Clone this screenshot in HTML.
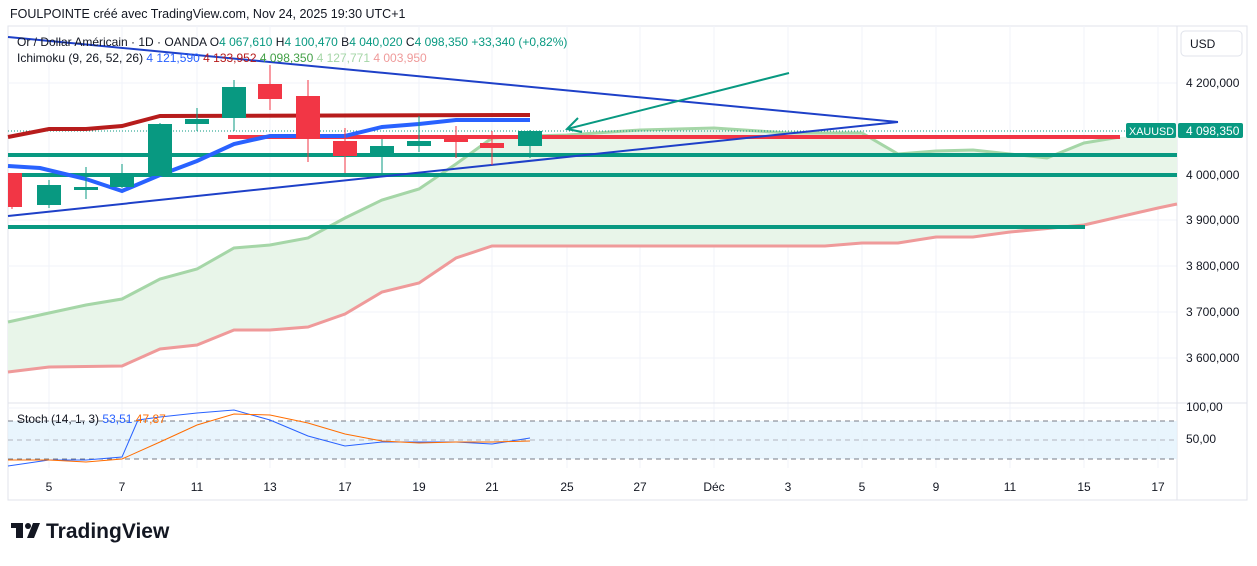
<!DOCTYPE html>
<html><head><meta charset="utf-8"><style>
body{margin:0;background:#fff;width:1257px;height:561px;overflow:hidden;font-family:"Liberation Sans",sans-serif}
svg text{font-family:"Liberation Sans",sans-serif}
</style></head><body>
<svg width="1257" height="561" xmlns="http://www.w3.org/2000/svg">
<text x="10" y="18" font-size="12.5" fill="#131722">FOULPOINTE créé avec TradingView.com, Nov 24, 2025 19:30 UTC+1</text>
<rect x="8" y="26" width="1239" height="474" fill="none" stroke="#e0e3eb"/>
<g stroke="#f0f3fa" stroke-width="1">
<line x1="49" y1="26" x2="49" y2="468"/><line x1="122" y1="26" x2="122" y2="468"/><line x1="197" y1="26" x2="197" y2="468"/><line x1="270" y1="26" x2="270" y2="468"/><line x1="345" y1="26" x2="345" y2="468"/><line x1="419" y1="26" x2="419" y2="468"/><line x1="492" y1="26" x2="492" y2="468"/><line x1="567" y1="26" x2="567" y2="468"/><line x1="640" y1="26" x2="640" y2="468"/><line x1="714" y1="26" x2="714" y2="468"/><line x1="788" y1="26" x2="788" y2="468"/><line x1="862" y1="26" x2="862" y2="468"/><line x1="936" y1="26" x2="936" y2="468"/><line x1="1010" y1="26" x2="1010" y2="468"/><line x1="1084" y1="26" x2="1084" y2="468"/><line x1="1158" y1="26" x2="1158" y2="468"/>
<line x1="8" y1="83" x2="1177" y2="83"/><line x1="8" y1="175" x2="1177" y2="175"/><line x1="8" y1="220" x2="1177" y2="220"/><line x1="8" y1="266" x2="1177" y2="266"/><line x1="8" y1="312" x2="1177" y2="312"/><line x1="8" y1="358" x2="1177" y2="358"/><line x1="8" y1="408" x2="1177" y2="408"/>
</g>
<line x1="8" y1="403" x2="1247" y2="403" stroke="#e0e3eb"/>
<line x1="1177" y1="26" x2="1177" y2="500" stroke="#e0e3eb"/>
<polygon fill="#e8f5e9" points="8,322 49,313 86,305 122,299 160,279 197,269 234,248 270,245 308,238 345,218 382,200 419,189 456,164 492,138 530,136 567,135 640,130 714,128 788,133 862,133 898,154 936,151 973,150 1047,158 1084,143 1120,137 1177,135 1177,204 1158,208 1084,225 1010,232 973,237 936,237 898,243 862,243 825,246 492,246 456,258 419,283 382,292 345,314 308,327 270,330 234,330 197,345 160,349 122,366 49,367 8,372"/>
<polyline fill="none" stroke="#a5d6a7" stroke-width="3" points="8,322 49,313 86,305 122,299 160,279 197,269 234,248 270,245 308,238 345,218 382,200 419,189 456,164 492,138 530,136 567,135 640,130 714,128 788,133 862,133 898,154 936,151 973,150 1047,158 1084,143 1120,137"/>
<polyline fill="none" stroke="#ef9a9a" stroke-width="3" points="8,372 49,367 122,366 160,349 197,345 234,330 270,330 308,327 345,314 382,292 419,283 456,258 492,246 825,246 862,243 898,243 936,237 973,237 1010,232 1084,225 1158,208 1177,204"/>
<line x1="8" y1="155" x2="1177" y2="155" stroke="#089981" stroke-width="4"/>
<line x1="8" y1="175" x2="1177" y2="175" stroke="#089981" stroke-width="4"/>
<line x1="8" y1="227" x2="1085" y2="227" stroke="#089981" stroke-width="4"/>
<line x1="228" y1="137" x2="1120" y2="137" stroke="#f23645" stroke-width="4"/>
<line x1="8" y1="131" x2="1177" y2="131" stroke="#089981" stroke-dasharray="1,2"/>
<line x1="8" y1="37" x2="898" y2="122" stroke="#1e40c8" stroke-width="2"/>
<line x1="8" y1="216" x2="898" y2="122" stroke="#1e40c8" stroke-width="2"/>
<line x1="567" y1="129" x2="789" y2="73" stroke="#089981" stroke-width="2"/>
<polyline fill="none" stroke="#089981" stroke-width="2" points="578,118 567,129 582,132"/>
<polyline fill="none" stroke="#b71c1c" stroke-width="4" points="8,137 49,129 86,129 122,126 160,116 530,115"/>
<polyline fill="none" stroke="#2962ff" stroke-width="4" points="8,166 40,168 86,179 122,191 160,175 197,161 234,144 270,136 345,136 382,127 419,124 456,120 530,120"/>
<g stroke-width="1">
<line x1="12" y1="173" x2="12" y2="209" stroke="#f23645"/><rect x="8" y="173" width="14" height="34" fill="#f23645"/>
<line x1="49" y1="180" x2="49" y2="208" stroke="#089981"/><rect x="37" y="185" width="24" height="20" fill="#089981"/>
<line x1="86" y1="167" x2="86" y2="199" stroke="#089981"/><rect x="74" y="187" width="24" height="3" fill="#089981"/>
<line x1="122" y1="164" x2="122" y2="188" stroke="#089981"/><rect x="110" y="173" width="24" height="14" fill="#089981"/>
<line x1="160" y1="123" x2="160" y2="176" stroke="#089981"/><rect x="148" y="124" width="24" height="52" fill="#089981"/>
<line x1="197" y1="108" x2="197" y2="131" stroke="#089981"/><rect x="185" y="119" width="24" height="5" fill="#089981"/>
<line x1="234" y1="80" x2="234" y2="131" stroke="#089981"/><rect x="222" y="87" width="24" height="31" fill="#089981"/>
<line x1="270" y1="65" x2="270" y2="110" stroke="#f23645"/><rect x="258" y="84" width="24" height="15" fill="#f23645"/>
<line x1="308" y1="80" x2="308" y2="162" stroke="#f23645"/><rect x="296" y="96" width="24" height="42" fill="#f23645"/>
<line x1="345" y1="128" x2="345" y2="173" stroke="#f23645"/><rect x="333" y="141" width="24" height="15" fill="#f23645"/>
<line x1="382" y1="139" x2="382" y2="173" stroke="#089981"/><rect x="370" y="146" width="24" height="10" fill="#089981"/>
<line x1="419" y1="116" x2="419" y2="152" stroke="#089981"/><rect x="407" y="141" width="24" height="5" fill="#089981"/>
<line x1="456" y1="126" x2="456" y2="158" stroke="#f23645"/><rect x="444" y="139" width="24" height="3" fill="#f23645"/>
<line x1="492" y1="131" x2="492" y2="165" stroke="#f23645"/><rect x="480" y="143" width="24" height="5" fill="#f23645"/>
<line x1="530" y1="130" x2="530" y2="158" stroke="#089981"/><rect x="518" y="131" width="24" height="15" fill="#089981"/>
</g>
<text x="17" y="46" font-size="12" fill="#131722">Or / Dollar Américain · 1D · OANDA <tspan>O</tspan><tspan fill="#089981">4 067,610</tspan> H<tspan fill="#089981">4 100,470</tspan> B<tspan fill="#089981">4 040,020</tspan> C<tspan fill="#089981">4 098,350</tspan> <tspan fill="#089981">+33,340 (+0,82%)</tspan></text>
<text x="17" y="62" font-size="12" fill="#131722">Ichimoku (9, 26, 52, 26) <tspan fill="#2962ff">4 121,590</tspan> <tspan fill="#b71c1c">4 133,952</tspan> <tspan fill="#43a047">4 098,350</tspan> <tspan fill="#a5d6a7">4 127,771</tspan> <tspan fill="#ef9a9a">4 003,950</tspan></text>
<rect x="1181" y="31" width="61" height="25" rx="4" fill="#fff" stroke="#e0e3eb"/>
<text x="1190" y="48" font-size="12" fill="#131722">USD</text>
<g font-size="12" fill="#131722">
<text x="1186" y="87">4 200,000</text><text x="1186" y="179">4 000,000</text><text x="1186" y="224">3 900,000</text><text x="1186" y="270">3 800,000</text><text x="1186" y="316">3 700,000</text><text x="1186" y="362">3 600,000</text>
<text x="1186" y="411">100,00</text><text x="1186" y="443">50,00</text>
</g>
<rect x="1126" y="123" width="50" height="15" rx="2" fill="#089981"/>
<text x="1129" y="135" font-size="11" fill="#fff" textLength="45" lengthAdjust="spacingAndGlyphs">XAUUSD</text>
<rect x="1178" y="123" width="65" height="15" rx="2" fill="#089981"/>
<text x="1186" y="135" font-size="12" fill="#fff">4 098,350</text>
<rect x="8" y="421" width="1169" height="38" fill="#e3f2fd" opacity="0.8"/>
<g stroke="#787b86" stroke-dasharray="5,4"><line x1="8" y1="421" x2="1177" y2="421"/><line x1="8" y1="440" x2="1177" y2="440" stroke="#b2b5be"/><line x1="8" y1="459" x2="1177" y2="459"/></g>
<polyline fill="none" stroke="#2962ff" stroke-width="1" points="8,466 49,460 86,460 122,457 138,420 160,417 197,413 234,410 270,420 308,436 345,446 382,442 419,442 456,442 492,444 530,438"/>
<polyline fill="none" stroke="#ff6d00" stroke-width="1" points="8,460 49,460 86,462 122,459 160,442 197,425 234,414 270,415 308,423 345,434 382,441 419,443 456,442 492,442 530,441"/>
<text x="17" y="423" font-size="12" fill="#131722">Stoch (14, 1, 3) <tspan fill="#2962ff">53,51</tspan> <tspan fill="#ff6d00">47,87</tspan></text>
<g font-size="12" fill="#131722" text-anchor="middle">
<text x="49" y="491">5</text><text x="122" y="491">7</text><text x="197" y="491">11</text><text x="270" y="491">13</text><text x="345" y="491">17</text><text x="419" y="491">19</text><text x="492" y="491">21</text><text x="567" y="491">25</text><text x="640" y="491">27</text><text x="714" y="491">Déc</text><text x="788" y="491">3</text><text x="862" y="491">5</text><text x="936" y="491">9</text><text x="1010" y="491">11</text><text x="1084" y="491">15</text><text x="1158" y="491">17</text>
</g>
<g fill="#131722"><rect x="11" y="523" width="12" height="5"/><rect x="16" y="523" width="7" height="15"/><circle cx="28" cy="526" r="3"/><polygon points="33,523 40,523 34,538 27,538"/></g>
<text x="46" y="538" font-size="21" font-weight="bold" fill="#131722">TradingView</text>
</svg>
</body></html>
